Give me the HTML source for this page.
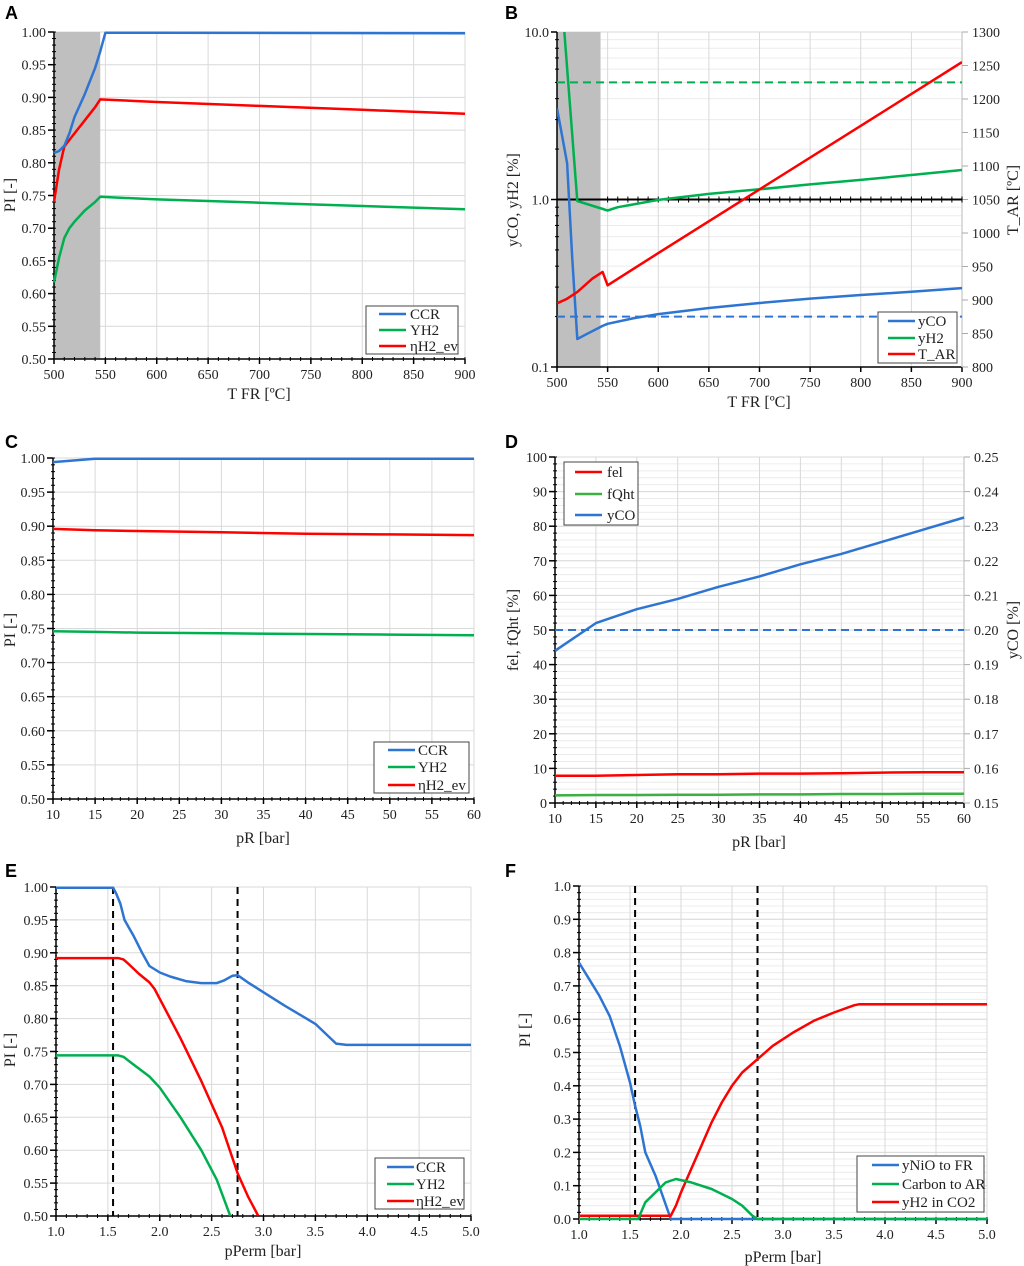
<!DOCTYPE html>
<html><head><meta charset="utf-8"><style>
html,body{margin:0;padding:0;background:#fff;}
svg{display:block;}
text{font-family:"Liberation Serif",serif;fill:#222;}
.lbl{font-family:"Liberation Sans",sans-serif;font-weight:bold;fill:#000;}
</style></head><body>
<svg id="fig" width="1024" height="1266" viewBox="0 0 1024 1266" xmlns="http://www.w3.org/2000/svg"></svg>
<script>
// ---------- Panel A data ----------
const aX_CCR=[500,505,510,515,520,530,540,545,550,600,900];
const aY_CCR=[0.815,0.818,0.826,0.845,0.870,0.905,0.945,0.970,0.999,0.999,0.998];
const aX_ETA=[500,505,510,520,530,540,545,600,700,800,900];
const aY_ETA=[0.740,0.790,0.825,0.845,0.865,0.885,0.897,0.893,0.887,0.881,0.875];
const aX_YH2=[500,505,510,515,520,530,540,545,600,700,800,900];
const aY_YH2=[0.617,0.655,0.685,0.700,0.710,0.727,0.740,0.748,0.744,0.739,0.734,0.729];
// ---------- Panel B data ----------
const bX_yCO=[500,505,510,515,520,530,545,550,575,600,650,700,750,800,850,900];
const bY_yCO=[3.5,2.4,1.65,0.45,0.147,0.158,0.176,0.181,0.195,0.207,0.225,0.241,0.256,0.269,0.281,0.296];
const bX_yH2=[505,520,550,560,600,650,700,750,800,850,900];
const bY_yH2=[15,0.98,0.86,0.90,0.995,1.08,1.15,1.23,1.31,1.40,1.50];
const bX_TAR=[500,510,520,535,545,550,600,700,800,900];
const bY_TAR=[895,902,912,932,942,922,970,1065,1160,1255];
const bH2limit=[5.0];
const bCOlimit=[0.2];
// ---------- Panel C data ----------
const cX=[10,15,20,30,40,50,60];
const cY_CCR=[0.994,0.999,0.999,0.999,0.999,0.999,0.999];
const cY_ETA=[0.896,0.894,0.893,0.891,0.889,0.888,0.887];
const cY_YH2=[0.746,0.745,0.744,0.743,0.742,0.741,0.740];
// ---------- Panel D data ----------
const dX=[10,15,20,25,30,35,40,45,50,55,60];
const dY_yCO=[0.194,0.202,0.206,0.209,0.2125,0.2155,0.219,0.222,0.2255,0.229,0.2325];
const dY_fel=[7.9,7.9,8.1,8.3,8.3,8.5,8.5,8.6,8.8,8.9,8.9];
const dY_fQht=[2.2,2.3,2.3,2.4,2.4,2.5,2.5,2.6,2.6,2.7,2.7];
const dCOlimit=[0.20];
// ---------- Panel E data ----------
const eX_CCR=[1.0,1.55,1.58,1.62,1.66,1.75,1.83,1.9,2.0,2.1,2.25,2.4,2.55,2.62,2.7,2.75,2.85,3.0,3.2,3.5,3.7,3.8,5.0];
const eY_CCR=[0.999,0.999,0.99,0.975,0.95,0.925,0.9,0.88,0.87,0.864,0.857,0.854,0.854,0.858,0.865,0.866,0.855,0.84,0.82,0.792,0.762,0.76,0.76];
const eX_ETA=[1.0,1.6,1.65,1.7,1.8,1.9,1.95,2.0,2.2,2.4,2.6,2.75,2.85,2.95];
const eY_ETA=[0.892,0.892,0.89,0.883,0.868,0.855,0.845,0.83,0.77,0.705,0.635,0.565,0.53,0.50];
const eX_YH2=[1.0,1.6,1.65,1.75,1.9,2.0,2.2,2.4,2.55,2.68];
const eY_YH2=[0.744,0.744,0.742,0.73,0.712,0.695,0.65,0.60,0.555,0.50];
const eVlines=[1.55,2.75];
// ---------- Panel F data ----------
const fX_NiO=[1.0,1.1,1.2,1.3,1.4,1.5,1.55,1.6,1.65,1.75,1.9,5.0];
const fY_NiO=[0.77,0.72,0.67,0.61,0.52,0.41,0.34,0.28,0.20,0.13,0.0,0.0];
const fX_C=[1.0,1.58,1.65,1.75,1.85,1.95,2.1,2.3,2.5,2.6,2.7,2.75,5.0];
const fY_C=[0,0,0.05,0.08,0.11,0.12,0.11,0.09,0.06,0.04,0.01,0,0];
const fX_H2=[1.0,1.9,1.95,2.0,2.1,2.2,2.3,2.4,2.5,2.6,2.75,2.9,3.1,3.3,3.5,3.7,3.75,5.0];
const fY_H2=[0.01,0.01,0.04,0.08,0.15,0.22,0.29,0.35,0.40,0.44,0.48,0.52,0.56,0.595,0.62,0.642,0.645,0.645];
const fVlines=[1.55,2.75];

const NS="http://www.w3.org/2000/svg";
const svg=document.getElementById('fig');
const BLUE="#2e75d2",GREEN="#00b050",RED="#ff0000";
function mk(tag,attrs,parent){const e=document.createElementNS(NS,tag);for(const k in attrs)e.setAttribute(k,attrs[k]);(parent||svg).appendChild(e);return e;}
function lin(d0,d1,r0,r1){return v=>r0+(v-d0)*(r1-r0)/(d1-d0);}
function lg(d0,d1,r0,r1){const a=Math.log10(d0),b=Math.log10(d1);return v=>r0+(Math.log10(v)-a)*(r1-r0)/(b-a);}
function rng(a,b,s){const o=[];for(let v=a;v<=b+s*1e-6;v+=s)o.push(+v.toFixed(6));return o;}
function series(g,xs,ys,sx,sy,color,name,clip){
  const p=mk('polyline',{points:xs.map((x,i)=>sx(x).toFixed(1)+','+sy(ys[i]).toFixed(1)).join(' '),fill:'none',stroke:color,'stroke-width':2.5,'stroke-linejoin':'round'},g);
  if(clip)p.setAttribute('clip-path','url(#'+clip+')');
  
  
  return p;
}
function hline(g,v,sy,x0,x1,color,name,dash){
  const l=mk('line',{x1:x0,x2:x1,y1:sy(v),y2:sy(v),stroke:color,'stroke-width':2,'stroke-dasharray':dash||''},g);
  
  
}
function vline(g,v,sx,y0,y1,name){
  const l=mk('line',{x1:sx(v),x2:sx(v),y1:y0,y2:y1,stroke:'#000','stroke-width':2,'stroke-dasharray':'7,5'},g);
  
  
}
function txt(g,x,y,s,anchor,size,name,rot){
  const t=mk('text',{x:x,y:y,'text-anchor':anchor||'start','font-size':size||14},g);
  if(rot)t.setAttribute('transform','rotate(-90 '+x+' '+y+')');
  t.textContent=s;
  
  
  return t;
}
function panelLetter(x,y,s){
  const t=mk('text',{x:x,y:y,'font-size':18,class:'lbl'});t.textContent=s;
  
  
}
function frame(g,P){
  const {x0,x1,y0,y1}=P;
  (P.yMinorGrid||[]).forEach(v=>mk('line',{x1:x0,x2:x1,y1:P.sy(v),y2:P.sy(v),stroke:'#ececec','stroke-width':1},g));
  (P.xGrid||[]).forEach(v=>mk('line',{x1:P.sx(v),x2:P.sx(v),y1:y0,y2:y1,stroke:'#d9d9d9','stroke-width':1},g));
  (P.yGrid||[]).forEach(v=>mk('line',{x1:x0,x2:x1,y1:P.sy(v),y2:P.sy(v),stroke:'#d9d9d9','stroke-width':1},g));
}
function axes(g,P){
  const {x0,x1,y0,y1}=P;
  const ax=mk('line',{x1:x0,x2:x0,y1:y0,y2:y1,stroke:'#000','stroke-width':1.5},g);
  
  
  const bx=mk('line',{x1:x0,x2:x1,y1:y1,y2:y1,stroke:'#000','stroke-width':1.5},g);
  
  
  (P.xMinor||[]).forEach(v=>mk('line',{x1:P.sx(v),x2:P.sx(v),y1:y1-2,y2:y1+2,stroke:'#000','stroke-width':1},g));
  (P.yMinor||[]).forEach(v=>mk('line',{x1:x0-2,x2:x0+2,y1:P.sy(v),y2:P.sy(v),stroke:'#000','stroke-width':1},g));
  P.xTicks.forEach(v=>{mk('line',{x1:P.sx(v),x2:P.sx(v),y1:y1,y2:y1+5,stroke:'#000','stroke-width':1.5},g);
    txt(g,P.sx(v),y1+20,P.xFmt(v),'middle',14,'x-tick-label');});
  P.yTicks.forEach(v=>{mk('line',{x1:x0-6,x2:x0,y1:P.sy(v),y2:P.sy(v),stroke:'#000','stroke-width':1.5},g);
    txt(g,x0-8,P.sy(v)+5,P.yFmt(v),'end',14,'y-tick-label');});
  if(P.rTicks){
    const rx=mk('line',{x1:x1,x2:x1,y1:y0,y2:y1,stroke:'#d0d0d0','stroke-width':1.5},g);
    
    
    P.rTicks.forEach(v=>{mk('line',{x1:x1,x2:x1+6,y1:P.sr(v),y2:P.sr(v),stroke:'#aaa','stroke-width':1},g);
      txt(g,x1+10,P.sr(v)+5,P.rFmt(v),'start',14,'right-tick-label');});
  }
}
function legend(g,bx,by,bw,bh,lx,tx,rows,items){
  const r=mk('rect',{x:bx,y:by,width:bw,height:bh,fill:'#fff',stroke:'#444','stroke-width':1},g);
  
  
  items.forEach((it,i)=>{
    mk('line',{x1:lx,x2:lx+27,y1:rows[i],y2:rows[i],stroke:it[1],'stroke-width':2.5},g);
    txt(g,tx,rows[i]+5,it[0],'start',15,'legend-entry');
  });
}
function clipRect(id,x,y,w,h){const d=mk('clipPath',{id:id});mk('rect',{x:x,y:y,width:w,height:h},d);}
function group(name){const g=mk('g',{});return g;}

// ================= Panel A =================
(function(){
  const g=group('panel-a');
  const P={x0:54,x1:465,y0:32,y1:359};
  P.sx=lin(500,900,P.x0,P.x1);P.sy=lin(0.5,1.0,P.y1,P.y0);
  P.xGrid=rng(550,900,50);P.yGrid=rng(0.55,1.0,0.05);
  P.xTicks=rng(500,900,50);P.yTicks=rng(0.5,1.0,0.05);
  P.xMinor=rng(500,900,10);P.yMinor=rng(0.5,1.0,0.01);
  P.xFmt=v=>String(v);P.yFmt=v=>v.toFixed(2);
  frame(g,P);
  const sh=mk('rect',{x:P.sx(500),y:P.y0,width:P.sx(545)-P.sx(500),height:P.y1-P.y0,fill:'#bfbfbf'},g);
  
  
  axes(g,P);
  series(g,aX_YH2,aY_YH2,P.sx,P.sy,GREEN,'line-yh2');
  series(g,aX_ETA,aY_ETA,P.sx,P.sy,RED,'line-eta-h2');
  series(g,aX_CCR,aY_CCR,P.sx,P.sy,BLUE,'line-ccr');
  legend(g,366,306,92,48,379,410,[314,330,346],[['CCR',BLUE],['YH2',GREEN],['ηH2_ev',RED]]);
  txt(g,259,399,'T FR [ºC]','middle',16,'x-axis-title');
  txt(g,15,195,'PI [-]','middle',16,'y-axis-title',true);
  panelLetter(5,19,'A');
})();
// ================= Panel B =================
(function(){
  const g=group('panel-b');
  const P={x0:557,x1:962,y0:32,y1:367};
  clipRect('clipB',P.x0,P.y0,P.x1-P.x0,P.y1-P.y0);
  P.sx=lin(500,900,P.x0,P.x1);P.sy=lg(0.1,10,P.y1,P.y0);P.sr=lin(800,1300,P.y1,P.y0);
  P.xGrid=rng(550,900,50);P.yGrid=[1,10];
  const mg=[];[0.1,1].forEach(d=>{for(let k=2;k<=9;k++)mg.push(d*k);});P.yMinorGrid=mg;
  P.xTicks=rng(500,900,50);P.yTicks=[0.1,1,10];P.yMinor=mg;
  P.xMinor=[];
  P.xFmt=v=>String(v);P.yFmt=v=>v.toFixed(1);
  P.rTicks=rng(800,1300,50);P.rFmt=v=>String(v);
  frame(g,P);
  const sh=mk('rect',{x:P.sx(500),y:P.y0,width:P.sx(543)-P.sx(500),height:P.y1-P.y0,fill:'#bfbfbf'},g);
  
  
  axes(g,P);
  hline(g,1,P.sy,P.x0,P.x1,'#000','reference-line-1');
  rng(550,900,10).forEach(v=>mk('line',{x1:P.sx(v),x2:P.sx(v),y1:P.sy(1)-3,y2:P.sy(1)+3,stroke:'#000','stroke-width':1},g));
  hline(g,bH2limit[0],P.sy,P.x0,P.x1,GREEN,'yh2-limit-line','8,5');
  hline(g,bCOlimit[0],P.sy,P.x0,P.x1,BLUE,'yco-limit-line','8,5');
  series(g,bX_yCO,bY_yCO,P.sx,P.sy,BLUE,'line-yco','clipB');
  series(g,bX_yH2,bY_yH2,P.sx,P.sy,GREEN,'line-yh2','clipB');
  series(g,bX_TAR,bY_TAR,P.sx,P.sr,RED,'line-t-ar','clipB');
  legend(g,878,312,79,51,888,918,[321,338,354],[['yCO',BLUE],['yH2',GREEN],['T_AR',RED]]);
  txt(g,759,407,'T FR [ºC]','middle',16,'x-axis-title');
  txt(g,518,200,'yCO, yH2 [%]','middle',16,'y-axis-title',true);
  txt(g,1018,200,'T_AR [ºC]','middle',16,'right-axis-title',true);
  panelLetter(505,19,'B');
})();
// ================= Panel C =================
(function(){
  const g=group('panel-c');
  const P={x0:53,x1:474,y0:458,y1:799};
  P.sx=lin(10,60,P.x0,P.x1);P.sy=lin(0.5,1.0,P.y1,P.y0);
  P.xGrid=rng(15,60,5);P.yGrid=rng(0.55,1.0,0.05);
  P.xTicks=rng(10,60,5);P.yTicks=rng(0.5,1.0,0.05);
  P.xMinor=rng(10,60,1);P.yMinor=rng(0.5,1.0,0.01);
  P.xFmt=v=>String(v);P.yFmt=v=>v.toFixed(2);
  frame(g,P);axes(g,P);
  series(g,cX,cY_YH2,P.sx,P.sy,GREEN,'line-yh2');
  series(g,cX,cY_ETA,P.sx,P.sy,RED,'line-eta-h2');
  series(g,cX,cY_CCR,P.sx,P.sy,BLUE,'line-ccr');
  legend(g,374,742,95,51,388,418,[750,767,785],[['CCR',BLUE],['YH2',GREEN],['ηH2_ev',RED]]);
  txt(g,263,843,'pR [bar]','middle',16,'x-axis-title');
  txt(g,15,630,'PI [-]','middle',16,'y-axis-title',true);
  panelLetter(5,448,'C');
})();
// ================= Panel D =================
(function(){
  const g=group('panel-d');
  const P={x0:555,x1:964,y0:457,y1:803};
  P.sx=lin(10,60,P.x0,P.x1);P.sy=lin(0,100,P.y1,P.y0);P.sr=lin(0.15,0.25,P.y1,P.y0);
  P.xGrid=rng(15,60,5);P.yGrid=rng(10,100,10);P.yMinorGrid=rng(0,100,2);
  P.xTicks=rng(10,60,5);P.yTicks=rng(0,100,10);
  P.xMinor=rng(10,60,1);P.yMinor=rng(0,100,2);
  P.xFmt=v=>String(v);P.yFmt=v=>String(v);
  P.rTicks=rng(0.15,0.25,0.01);P.rFmt=v=>v.toFixed(2);
  frame(g,P);axes(g,P);
  hline(g,dCOlimit[0],P.sr,P.x0,P.x1,BLUE,'yco-limit-line','8,5');
  series(g,dX,dY_fQht,P.sx,P.sy,'#3cb043','line-fqht');
  series(g,dX,dY_fel,P.sx,P.sy,RED,'line-fel');
  series(g,dX,dY_yCO,P.sx,P.sr,BLUE,'line-yco');
  legend(g,564,462,74,63,575,607,[472,494,515],[['fel',RED],['fQht','#3cb043'],['yCO',BLUE]]);
  txt(g,759,847,'pR [bar]','middle',16,'x-axis-title');
  txt(g,518,630,'fel, fQht  [%]','middle',16,'y-axis-title',true);
  txt(g,1018,630,'yCO [%]','middle',16,'right-axis-title',true);
  panelLetter(505,448,'D');
})();
// ================= Panel E =================
(function(){
  const g=group('panel-e');
  const P={x0:56,x1:471,y0:887,y1:1216};
  P.sx=lin(1,5,P.x0,P.x1);P.sy=lin(0.5,1.0,P.y1,P.y0);
  P.xGrid=rng(1.5,5,0.5);P.yGrid=rng(0.55,1.0,0.05);
  P.xTicks=rng(1,5,0.5);P.yTicks=rng(0.5,1.0,0.05);
  P.xMinor=rng(1,5,0.1);P.yMinor=rng(0.5,1.0,0.01);
  P.xFmt=v=>v.toFixed(1);P.yFmt=v=>v.toFixed(2);
  frame(g,P);axes(g,P);
  clipRect('clipE',P.x0,P.y0-3,P.x1-P.x0,P.y1-P.y0+3);
  eVlines.forEach(v=>vline(g,v,P.sx,P.y0,P.y1,'boundary-line'));
  series(g,eX_YH2,eY_YH2,P.sx,P.sy,GREEN,'line-yh2','clipE');
  series(g,eX_ETA,eY_ETA,P.sx,P.sy,RED,'line-eta-h2','clipE');
  series(g,eX_CCR,eY_CCR,P.sx,P.sy,BLUE,'line-ccr','clipE');
  legend(g,375,1158,89,51,387,416,[1167,1184,1201],[['CCR',BLUE],['YH2',GREEN],['ηH2_ev',RED]]);
  txt(g,263,1256,'pPerm [bar]','middle',16,'x-axis-title');
  txt(g,15,1050,'PI [-]','middle',16,'y-axis-title',true);
  panelLetter(5,877,'E');
})();
// ================= Panel F =================
(function(){
  const g=group('panel-f');
  const P={x0:579,x1:987,y0:886,y1:1219};
  P.sx=lin(1,5,P.x0,P.x1);P.sy=lin(0,1,P.y1,P.y0);
  P.xGrid=rng(1.5,5,0.5);P.yGrid=rng(0.1,1,0.1);P.yMinorGrid=rng(0,1,0.02);
  P.xTicks=rng(1,5,0.5);P.yTicks=rng(0,1,0.1);
  P.xMinor=rng(1,5,0.1);P.yMinor=rng(0,1,0.02);
  P.xFmt=v=>v.toFixed(1);P.yFmt=v=>v.toFixed(1);
  frame(g,P);axes(g,P);
  fVlines.forEach(v=>vline(g,v,P.sx,P.y0,P.y1,'boundary-line'));
  series(g,fX_NiO,fY_NiO,P.sx,P.sy,BLUE,'line-ynio');
  series(g,fX_H2,fY_H2,P.sx,P.sy,RED,'line-yh2-co2');
  series(g,fX_C,fY_C,P.sx,P.sy,GREEN,'line-carbon');
  legend(g,857,1156,127,56,872,902,[1165,1184,1202],[['yNiO to FR',BLUE],['Carbon to AR',GREEN],['yH2 in CO2',RED]]);
  txt(g,783,1262,'pPerm [bar]','middle',16,'x-axis-title');
  txt(g,530,1030,'PI [-]','middle',16,'y-axis-title',true);
  panelLetter(505,877,'F');
})();
</script>
</body></html>
